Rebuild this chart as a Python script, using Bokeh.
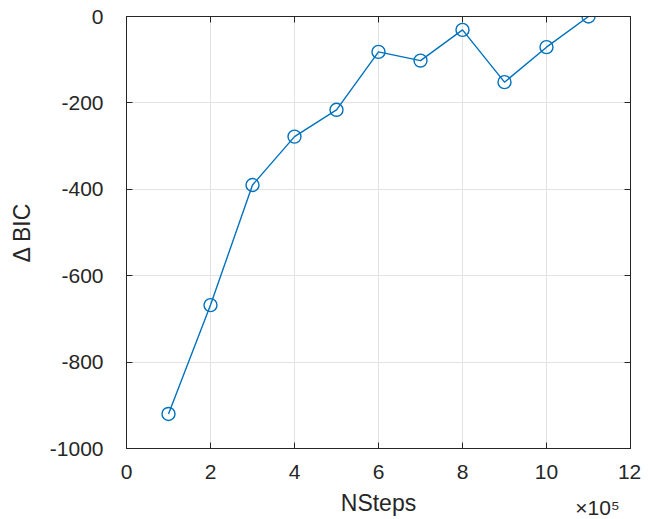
from bokeh.plotting import figure
from bokeh.models import Range1d, LinearAxis, FixedTicker, PrintfTickFormatter
from bokeh.embed import file_html
from bokeh.resources import INLINE

# Data (NSteps in units of 1e5)
nsteps_e5 = [1, 2, 3, 4, 5, 6, 7, 8, 9, 10, 11]
delta_bic = [-920, -668, -390, -278, -216, -82, -102, -31, -152, -71, 0]
x_ticks = [0, 2, 4, 6, 8, 10, 12]
y_ticks = [-1000, -800, -600, -400, -200, 0]
x_scale_note = "×10⁵"

FONT = "Liberation Sans"
AX = "#262626"
BLUE = "#0072BD"
NB = "\u00a0"

p = figure(width=660, height=519, output_backend="svg", toolbar_location=None,
           x_range=Range1d(0, 12), y_range=Range1d(-1000, 0),
           min_border_left=126, min_border_right=30, min_border_top=16, min_border_bottom=71)
p.background_fill_color = "white"
p.border_fill_color = "white"
p.outline_line_color = AX
p.outline_line_width = 1

def style(ax):
    ax.major_label_text_font = FONT
    ax.major_label_text_font_size = "21px"
    ax.major_label_text_color = AX
    ax.axis_label_text_font = FONT
    ax.axis_label_text_font_size = "23px"
    ax.axis_label_text_font_style = "normal"
    ax.axis_label_text_color = AX
    ax.axis_line_color = AX
    ax.major_tick_line_color = AX
    ax.major_tick_in = 6
    ax.major_tick_out = 0
    ax.minor_tick_line_color = None

style(p.xaxis[0])
style(p.yaxis[0])

p.xaxis.ticker = FixedTicker(ticks=x_ticks)
p.yaxis.ticker = FixedTicker(ticks=y_ticks)
p.xaxis.formatter = PrintfTickFormatter(format="%d")
p.yaxis.formatter = PrintfTickFormatter(format="%d")
# scale factor shown under the last x tick, as MATLAB does
p.xaxis.major_label_overrides = {
    x_ticks[-1]: "%s%d\n%s%s" % (NB * 4, x_ticks[-1], x_scale_note, NB * 7)}
p.xaxis.major_label_text_line_height = 1.6
p.xaxis.axis_label = "NSteps"
p.yaxis.axis_label = "Δ BIC"
p.xaxis.major_label_standoff = 11
p.yaxis.major_label_standoff = 23
p.xaxis.axis_label_standoff = -32
p.yaxis.axis_label_standoff = 12

# box ticks on top/right, no labels
top = LinearAxis(ticker=FixedTicker(ticks=x_ticks),
                 major_label_overrides={t: "" for t in x_ticks},
                 major_tick_in=6, major_tick_out=0, minor_tick_line_color=None,
                 major_tick_line_color=AX, axis_line_color=AX, major_label_standoff=0)
right = LinearAxis(ticker=FixedTicker(ticks=y_ticks),
                   major_label_overrides={t: "" for t in y_ticks},
                   major_tick_in=6, major_tick_out=0, minor_tick_line_color=None,
                   major_tick_line_color=AX, axis_line_color=AX, major_label_standoff=0)
p.add_layout(top, "above")
p.add_layout(right, "right")

p.xgrid.ticker = FixedTicker(ticks=x_ticks)
p.ygrid.ticker = FixedTicker(ticks=y_ticks)
p.grid.grid_line_color = "#e3e3e3"
p.grid.grid_line_width = 1

p.line(nsteps_e5, delta_bic, line_color=BLUE, line_width=1.4)
p.scatter(nsteps_e5, delta_bic, marker="circle", size=13, fill_color=None,
          line_color=BLUE, line_width=1.4)

open("out.html", "w").write(file_html(p, INLINE))
